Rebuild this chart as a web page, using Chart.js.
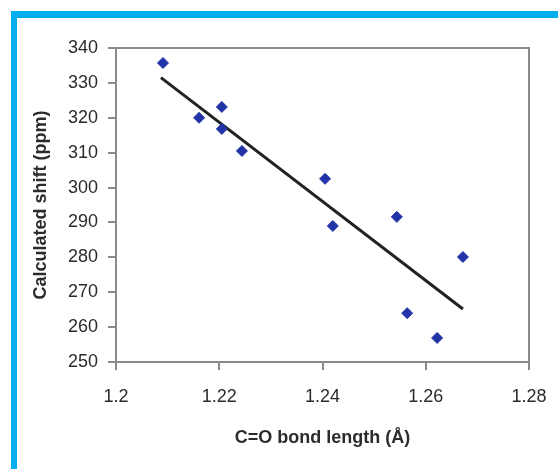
<!DOCTYPE html>
<html>
<head>
<meta charset="utf-8">
<script src="https://cdn.jsdelivr.net/npm/chart.js@4"></script>
<style>
  html, body { margin: 0; padding: 0; background: #fff; }
  #wrap { position: relative; width: 558px; height: 469px; }
  #frame { position: absolute; left: 11px; top: 11px; width: 560px; height: 470px;
           border-left: 6px solid #00AEEF; border-top: 7px solid #00AEEF; box-sizing: border-box; }
  canvas { position: absolute; left: 0; top: 0; }
</style>
</head>
<body>
<div id="wrap">
  <div id="frame"></div>
  <canvas id="myChart" width="558" height="469"></canvas>
</div>
<script>
// C=O bond length (Å) vs calculated shift (ppm)
const bondLength = [1.2091, 1.2161, 1.2205, 1.2205, 1.2244, 1.2405, 1.2420, 1.2544, 1.2564, 1.2622, 1.2672];
const shift      = [335.7, 320.0, 323.1, 316.8, 310.5, 302.5, 289.0, 291.6, 264.0, 256.9, 280.1];

// trend line end points
const trendX = [1.2087, 1.2672];
const trendY = [331.5, 265.2];

const xTicks = [1.2, 1.22, 1.24, 1.26, 1.28];
const yTicks = [250, 260, 270, 280, 290, 300, 310, 320, 330, 340];

const plotBox = {
    id: 'plotBox',
    afterDraw(chart) {
        const { ctx, chartArea: a } = chart;
        ctx.save();
        ctx.strokeStyle = '#8a8a8a';
        ctx.lineWidth = 2;
        ctx.strokeRect(a.left, a.top, a.right - a.left, a.bottom - a.top);
        ctx.restore();
    }
};

const ctx = document.getElementById('myChart').getContext('2d');

new Chart(ctx, {
    type: 'scatter',
    data: {
        datasets: [
            {
                label: 'trend',
                type: 'line',
                data: trendX.map((x, i) => ({ x: x, y: trendY[i] })),
                borderColor: '#222',
                borderWidth: 3,
                pointRadius: 0,
                fill: false,
                order: 2
            },
            {
                label: 'shift',
                data: bondLength.map((x, i) => ({ x: x, y: shift[i] })),
                pointStyle: 'rectRot',
                pointRadius: 5.5,
                backgroundColor: '#2233A8',
                borderColor: '#2233A8',
                borderWidth: 1,
                order: 1
            }
        ]
    },
    options: {
        responsive: false,
        animation: false,
        layout: { padding: { left: 18, top: 48, right: 29, bottom: 0 } },
        plugins: {
            legend: { display: false },
            tooltip: { enabled: false }
        },
        scales: {
            x: {
                type: 'linear',
                min: 1.2,
                max: 1.28,
                afterBuildTicks: (scale) => { scale.ticks = xTicks.map(v => ({ value: v })); },
                afterFit: (scale) => {
                    scale.height = 107;
                    scale.paddingLeft = 0;
                    scale.paddingRight = 0;
                },
                ticks: {
                    color: '#2b2b2b',
                    font: { family: 'Liberation Sans', size: 18 },
                    padding: 16,
                    callback: (v) => String(parseFloat(v.toFixed(2)))
                },
                grid: { drawOnChartArea: false, drawTicks: true, tickLength: 8, color: '#8a8a8a', lineWidth: 2 },
                border: { display: true, color: '#8a8a8a', width: 2 },
                title: {
                    display: true,
                    text: 'C=O bond length (Å)',
                    color: '#2b2b2b',
                    font: { family: 'Liberation Sans', size: 18, weight: 'bold' },
                    padding: { top: 0, bottom: 20 }
                }
            },
            y: {
                type: 'linear',
                min: 250,
                max: 340,
                afterBuildTicks: (scale) => { scale.ticks = yTicks.map(v => ({ value: v })); },
                afterFit: (scale) => {
                    scale.width = 98;
                    scale.paddingTop = 0;
                    scale.paddingBottom = 0;
                },
                ticks: {
                    color: '#2b2b2b',
                    font: { family: 'Liberation Sans', size: 18 },
                    padding: 10
                },
                grid: { drawOnChartArea: false, drawTicks: true, tickLength: 8, color: '#8a8a8a', lineWidth: 2 },
                border: { display: true, color: '#8a8a8a', width: 2 },
                title: {
                    display: true,
                    text: 'Calculated shift (ppm)',
                    color: '#2b2b2b',
                    font: { family: 'Liberation Sans', size: 18, weight: 'bold' },
                    padding: { top: 12, bottom: 0 }
                }
            }
        }
    },
    plugins: [plotBox]
});
</script>
</body>
</html>
